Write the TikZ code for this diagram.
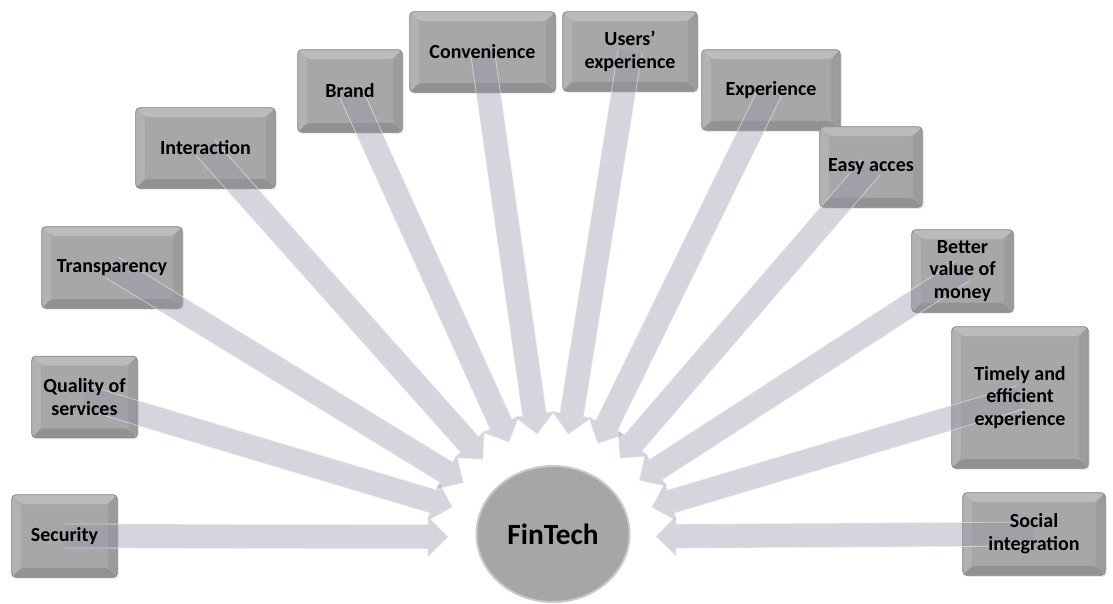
\documentclass[tikz,border=0pt]{standalone}
\usepackage{fontspec}
\setmainfont{Carlito}
\usetikzlibrary{calc,shapes.geometric,shadows}

\definecolor{boxface}{HTML}{A7A7A7}
\definecolor{boxedge}{HTML}{8C8C8C}
\definecolor{bevtop}{HTML}{BBBBBB}
\definecolor{bevleft}{HTML}{B2B2B2}
\definecolor{bevbottom}{HTML}{929292}
\definecolor{bevright}{HTML}{9C9C9C}
\definecolor{arrowfill}{RGB}{150,150,172}
\definecolor{arrowedge}{RGB}{235,235,242}
\definecolor{hubface}{HTML}{A6A6A6}
\definecolor{hubrim}{HTML}{C9C9C9}

\pgfdeclarelayer{boxes}
\pgfdeclarelayer{arrows}
\pgfsetlayers{boxes,arrows,main}

\tikzset{
  factor/.style 2 args={
    minimum width=#1*0.75pt, minimum height=#2*0.75pt, inner sep=0pt,
    align=center, font=\fontsize{15}{17}\selectfont\bfseries
  },
  bevelbox/.style={
    draw=boxedge, line width=0.6pt, rounded corners=3pt, fill=boxface,
    drop shadow={opacity=0.25, shadow xshift=1pt, shadow yshift=-1pt},
    path picture={
      \def\bv{7pt}
      \fill[bevtop] (path picture bounding box.north west) -- (path picture bounding box.north east)
        -- ([xshift=-\bv,yshift=-\bv]path picture bounding box.north east)
        -- ([xshift=\bv,yshift=-\bv]path picture bounding box.north west) -- cycle;
      \fill[bevleft] (path picture bounding box.north west) -- (path picture bounding box.south west)
        -- ([xshift=\bv,yshift=\bv]path picture bounding box.south west)
        -- ([xshift=\bv,yshift=-\bv]path picture bounding box.north west) -- cycle;
      \fill[bevbottom] (path picture bounding box.south west) -- (path picture bounding box.south east)
        -- ([xshift=-\bv,yshift=\bv]path picture bounding box.south east)
        -- ([xshift=\bv,yshift=\bv]path picture bounding box.south west) -- cycle;
      \fill[bevright] (path picture bounding box.north east) -- (path picture bounding box.south east)
        -- ([xshift=-\bv,yshift=\bv]path picture bounding box.south east)
        -- ([xshift=-\bv,yshift=-\bv]path picture bounding box.north east) -- cycle;
    }
  },
  hub/.style={ellipse, draw=hubrim, line width=1.5pt, fill=hubface,
    minimum width=153*0.75pt, minimum height=136*0.75pt, inner sep=0pt,
    font=\fontsize{22}{24}\selectfont\bfseries},
  arrowbody/.style={fill=arrowfill, fill opacity=0.4},
  arrowrim/.style={draw=arrowedge, draw opacity=0.6, line width=0.6pt, line join=round}
}

% broad arrow from the centre of a factor box towards the hub;
% the outline runs along the sides and head only, not across the tail
\newcommand{\feedarrow}[1]{%
  \coordinate (#1-tip) at ($(hubc)!78pt!(#1)$);
  \coordinate (#1-neck) at ($(#1-tip)!15pt!(#1)$);
  \coordinate (#1-tl) at ($(#1)!9pt!90:(#1-tip)$);
  \coordinate (#1-tr) at ($(#1)!9pt!-90:(#1-tip)$);
  \coordinate (#1-nl) at ($(#1-neck)!9pt!90:(#1-tip)$);
  \coordinate (#1-nr) at ($(#1-neck)!9pt!-90:(#1-tip)$);
  \coordinate (#1-hl) at ($(#1-neck)!15pt!90:(#1-tip)$);
  \coordinate (#1-hr) at ($(#1-neck)!15pt!-90:(#1-tip)$);
  \fill[arrowbody] (#1-tl) -- (#1-nl) -- (#1-hl) -- (#1-tip) -- (#1-hr) -- (#1-nr) -- (#1-tr) -- cycle;
  \draw[arrowrim] (#1-tl) -- (#1-nl) -- (#1-hl) -- (#1-tip) -- (#1-hr) -- (#1-nr) -- (#1-tr);
}

\begin{document}
\begin{tikzpicture}[x=0.75pt,y=-0.75pt]
  \useasboundingbox (0,0) rectangle (1113,603);

  % hub
  \node[hub] (fin) at (553,534) {FinTech};
  \coordinate (hubc) at (552,537);

  % factor labels
  \node[factor={105}{82}]  (sec)    at (64.5,536)   {Security};
  \node[factor={105}{81}]  (qual)   at (84.5,397)   {Quality of\\services};
  \node[factor={140}{81}]  (trans)  at (112,267.5)  {Transparency};
  \node[factor={139}{80}]  (inter)  at (205.5,148)  {Interaction};
  \node[factor={104}{82}]  (brand)  at (350,91)     {Brand};
  \node[factor={145}{80}]  (conv)   at (482.5,52)   {Convenience};
  \node[factor={134}{79}]  (users)  at (630,51.5)   {Users’\\experience};
  \node[factor={138}{80}]  (exper)  at (771,90)     {Experience};
  \node[factor={102}{80}]  (easy)   at (871,167)    {Easy acces};
  \node[factor={101}{82}]  (better) at (962.5,271)  {Better\\value of\\money};
  \node[factor={136}{141}] (timely) at (1020,397.5) {Timely and\\efficient\\experience};
  \node[factor={142}{82}]  (social) at (1034,534)   {Social\\integration};

  \foreach \f in {sec,qual,trans,inter,brand,conv,users,exper,easy,better,timely,social}{
    % bevelled box behind each label
    \begin{pgfonlayer}{boxes}
      \path[bevelbox] (\f.north west) rectangle (\f.south east);
    \end{pgfonlayer}
    % translucent arrow into the hub
    \begin{pgfonlayer}{arrows}
      \feedarrow{\f}
    \end{pgfonlayer}
  }
\end{tikzpicture}
\end{document}
